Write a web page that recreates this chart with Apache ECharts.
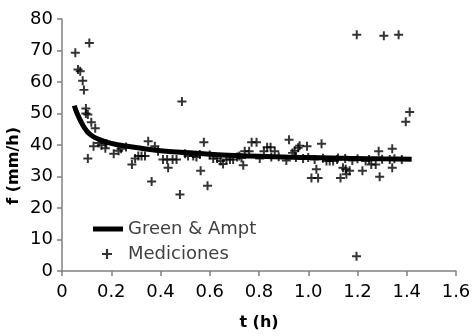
<!DOCTYPE html>
<html><head><meta charset="utf-8">
<script src="https://cdn.jsdelivr.net/npm/echarts@6/dist/echarts.min.js"></script>
<style>html,body{margin:0;padding:0;background:#fff}#c{width:476px;height:336px}</style>
</head><body><div id="c"></div>
<script>
// Green & Ampt model curve (t in h, f in mm/h)
var curveT = [0.05,0.06,0.08,0.10,0.12,0.15,0.20,0.25,0.30,0.40,0.50,0.60,0.70,0.80,0.90,1.00,1.10,1.20,1.30,1.42];
var curveF = [52.5,50.3,47.0,44.5,43.0,41.8,40.5,39.8,39.2,38.2,37.6,37.1,36.7,36.4,36.2,36.0,35.9,35.7,35.6,35.5];
// Measurements
var measT = [0.054,0.065,0.074,0.084,0.089,0.097,0.097,0.105,0.111,0.119,0.135,0.105,0.128,0.149,0.16,0.176,0.18,0.21,0.23,0.24,0.26,0.284,0.297,0.31,0.323,0.337,0.35,0.364,0.377,0.39,0.41,0.427,0.431,0.449,0.465,0.479,0.487,0.5,0.512,0.533,0.546,0.56,0.563,0.576,0.591,0.6,0.614,0.63,0.644,0.654,0.668,0.682,0.695,0.711,0.72,0.729,0.736,0.742,0.76,0.77,0.79,0.803,0.82,0.833,0.847,0.85,0.864,0.88,0.911,0.922,0.936,0.945,0.95,0.959,0.965,0.979,0.995,1.0,1.013,1.026,1.033,1.04,1.054,1.06,1.074,1.087,1.101,1.117,1.121,1.131,1.141,1.15,1.152,1.155,1.168,1.179,1.196,1.197,1.2,1.22,1.233,1.247,1.256,1.274,1.286,1.29,1.3,1.307,1.331,1.341,1.341,1.35,1.367,1.38,1.396,1.412];
var measF = [69.3,64.0,63.4,60.4,57.5,51.6,50.0,49.7,72.4,47.2,45.3,35.7,39.6,40.6,39.9,39.0,40.5,37.2,38.2,38.8,39.4,33.8,35.7,36.5,36.5,36.5,41.2,28.4,39.6,38.0,35.4,35.4,32.8,35.4,35.4,24.3,53.8,37.2,36.5,36.5,36.2,37.0,31.8,40.9,27.1,36.8,35.7,35.7,34.9,34.0,35.4,35.4,35.4,36.2,36.5,35.9,33.6,38.0,38.0,40.9,40.9,35.7,38.0,39.3,39.3,36.2,38.0,36.3,35.1,41.7,37.5,38.2,36.0,39.1,39.8,35.7,39.6,36.0,29.5,35.4,32.3,29.5,40.4,35.8,34.9,34.9,34.9,35.4,35.9,29.5,32.8,35.7,32.3,30.7,31.8,35.1,4.7,75.0,35.6,31.8,34.9,35.4,33.8,33.8,38.0,29.9,35.5,74.7,35.4,38.8,32.8,35.6,75.0,35.4,47.4,50.5];
var xTicks = ['0','0.2','0.4','0.6','0.8','1.0','1.2','1.4','1.6'];

var plus = 'path://M3.9,0H6.1V3.9H10V6.1H6.1V10H3.9V6.1H0V3.9H3.9Z';
var curve = curveT.map(function(t,i){return [t,curveF[i]];});
var meas = measT.map(function(t,i){return [t,measF[i]];});
var font = 'DejaVu Sans';
var chart = echarts.init(document.getElementById('c'), null, {renderer:'canvas'});
chart.setOption({
  animation:false,
  backgroundColor:'#fff',
  grid:{left:62,right:20,top:19,bottom:61,containLabel:false},
  xAxis:{type:'value',min:0,max:1.6,interval:0.2,
    name:'t (h)',nameLocation:'middle',nameGap:44,
    nameTextStyle:{fontFamily:font,fontWeight:'bold',fontSize:16,color:'#000'},
    axisLine:{lineStyle:{color:'#808080',width:1.5}},
    axisTick:{show:true,length:5,inside:false,lineStyle:{color:'#808080',width:1.5}},
    splitLine:{show:false},
    axisLabel:{fontFamily:font,fontSize:18,color:'#000',margin:12,
      formatter:function(v){var i=Math.round(v/0.2);return xTicks[i];}}
  },
  yAxis:{type:'value',min:0,max:80,interval:10,
    axisLine:{show:true,lineStyle:{color:'#808080',width:1.5}},
    axisTick:{show:true,length:5,inside:false,lineStyle:{color:'#808080',width:1.5}},
    splitLine:{show:false},
    axisLabel:{fontFamily:font,fontSize:18,color:'#000',margin:9}
  },
  legend:[
    {left:88,top:215,itemWidth:30,itemHeight:5,
      textStyle:{fontFamily:font,fontSize:18,color:'#404040',lineHeight:18},
      data:[{name:'Green & Ampt',icon:'rect'}]},
    {left:97,top:240,itemWidth:10,itemHeight:10,
      textStyle:{fontFamily:font,fontSize:18,color:'#404040',lineHeight:18,padding:[0,0,0,11]},
      data:[{name:'Mediciones',icon:plus}]}
  ],
  graphic:[{type:'text',left:6,top:127,rotation:Math.PI/2,
    style:{text:'f (mm/h)',font:'bold 16px "DejaVu Sans"',fill:'#000'}}],
  series:[
    {name:'Mediciones',type:'scatter',symbol:plus,symbolSize:9,data:meas,
      itemStyle:{color:'#000'},z:2},
    {name:'Green & Ampt',type:'line',data:curve,symbol:'none',smooth:true,
      lineStyle:{color:'#000',width:5},itemStyle:{color:'#000'},z:3}
  ]
});
</script></body></html>
